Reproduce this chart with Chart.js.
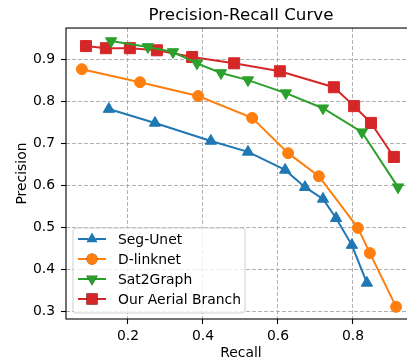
<!DOCTYPE html>
<html lang="en">
<head>
    <meta charset="UTF-8">
    <title>Precision-Recall Curve</title>
    <script src="https://cdn.jsdelivr.net/npm/chart.js"></script>
    <style>
        body {
            margin: 0;
            background: #fff;
        }
        #wrap {
            width: 407px;
            height: 362px;
            overflow: hidden;
        }
    </style>
</head>
<body>
    <div id="wrap">
        <canvas id="myChart" width="430" height="362"></canvas>
    </div>

    <script>
        // values
        const segUnetRecall = [0.149, 0.272, 0.421, 0.520, 0.619, 0.672, 0.720, 0.755, 0.797, 0.837];
        const segUnetPrecision = [0.781, 0.748, 0.705, 0.679, 0.636, 0.595, 0.567, 0.521, 0.457, 0.367];

        const dlinkRecall = [0.077, 0.232, 0.387, 0.531, 0.627, 0.709, 0.813, 0.845, 0.915];
        const dlinkPrecision = [0.876, 0.845, 0.812, 0.760, 0.676, 0.621, 0.498, 0.438, 0.310];

        const sat2graphRecall = [0.155, 0.253, 0.320, 0.384, 0.448, 0.520, 0.621, 0.720, 0.824, 0.920];
        const sat2graphPrecision = [0.943, 0.929, 0.917, 0.890, 0.867, 0.850, 0.819, 0.783, 0.726, 0.595];

        const aerialRecall = [0.088, 0.141, 0.205, 0.277, 0.371, 0.483, 0.605, 0.749, 0.803, 0.848, 0.909];
        const aerialPrecision = [0.931, 0.926, 0.926, 0.921, 0.905, 0.890, 0.871, 0.833, 0.788, 0.748, 0.667];

        const xTicks = [0.2, 0.4, 0.6, 0.8];
        const yTicks = [0.3, 0.4, 0.5, 0.6, 0.7, 0.8, 0.9];

        const FONT = 'DejaVu Sans';

        function toPoints(xs, ys) {
            return xs.map((x, i) => ({ x: x, y: ys[i] }));
        }

        function series(label, xs, ys, color, style, radius, rotation) {
            return {
                label: label,
                data: toPoints(xs, ys),
                showLine: true,
                borderColor: color,
                backgroundColor: color,
                borderWidth: 2,
                pointStyle: style,
                pointRadius: radius,
                pointHoverRadius: radius,
                pointRotation: rotation || 0,
                pointBorderWidth: 1,
                pointBorderColor: color
            };
        }

        // border round the plot area (matplotlib spines)
        const frame = {
            id: 'frame',
            afterDatasetsDraw(chart) {
                const { ctx, chartArea: a } = chart;
                ctx.save();
                ctx.strokeStyle = '#000';
                ctx.lineWidth = 1.1;
                ctx.strokeRect(a.left, a.top, a.right - a.left, a.bottom - a.top);
                ctx.restore();
            }
        };

        // legend in the lower left corner of the plot
        const innerLegend = {
            id: 'innerLegend',
            afterDraw(chart) {
                const ctx = chart.ctx;
                const a = chart.chartArea;
                const x0 = a.left + 7, y0 = a.bottom - 91, w = 172, h = 85;
                ctx.save();
                ctx.beginPath();
                ctx.roundRect(x0, y0, w, h, 3);
                ctx.fillStyle = 'rgba(255,255,255,0.8)';
                ctx.fill();
                ctx.strokeStyle = '#d0d0d0';
                ctx.lineWidth = 1;
                ctx.stroke();
                ctx.font = '13.9px ' + FONT;
                ctx.textBaseline = 'middle';
                chart.data.datasets.forEach((ds, i) => {
                    const y = y0 + 11 + i * 20;
                    ctx.strokeStyle = ds.borderColor;
                    ctx.lineWidth = 2;
                    ctx.beginPath();
                    ctx.moveTo(x0 + 5, y);
                    ctx.lineTo(x0 + 33, y);
                    ctx.stroke();
                    Chart.helpers.drawPoint(ctx, {
                        pointStyle: ds.pointStyle,
                        radius: ds.pointRadius,
                        rotation: ds.pointRotation
                    }, x0 + 19, y);
                    ctx.fillStyle = ds.borderColor;
                    ctx.fill();
                    ctx.fillStyle = '#000';
                    ctx.fillText(ds.label, x0 + 45, y + 1);
                });
                ctx.restore();
            }
        };

        const gridStyle = {
            color: '#b0b0b0',
            lineWidth: 1,
            tickLength: 5,
            tickColor: '#000',
            tickWidth: 1.1,
            tickBorderDash: []
        };

        const ctx = document.getElementById('myChart').getContext('2d');
        new Chart(ctx, {
            type: 'scatter',
            data: {
                datasets: [
                    series('Seg-Unet', segUnetRecall, segUnetPrecision, '#1f77b4', 'triangle', 6.5),
                    series('D-linknet', dlinkRecall, dlinkPrecision, '#ff7f0e', 'circle', 5.5),
                    series('Sat2Graph', sat2graphRecall, sat2graphPrecision, '#2ca02c', 'triangle', 6.5, 180),
                    series('Our Aerial Branch', aerialRecall, aerialPrecision, '#d62728', 'rect', 7.8)
                ]
            },
            options: {
                responsive: false,
                animation: false,
                devicePixelRatio: 1,
                layout: { padding: { left: 0, right: 14, top: 0, bottom: 0 } },
                plugins: {
                    legend: { display: false },
                    tooltip: { enabled: false },
                    title: {
                        display: true,
                        text: 'Precision-Recall Curve',
                        fullSize: false,
                        color: '#000',
                        font: { family: FONT, size: 16.7, weight: 'normal' },
                        padding: { top: 6, bottom: 2 }
                    }
                },
                scales: {
                    x: {
                        type: 'linear',
                        min: 0.0347,
                        max: 0.968,
                        afterFit: s => { s.height = 43; },
                        afterBuildTicks: s => { s.ticks = xTicks.map(v => ({ value: v })); },
                        border: { display: false, dash: [4, 2] },
                        grid: gridStyle,
                        ticks: {
                            color: '#000',
                            padding: 4,
                            maxRotation: 0,
                            font: { family: FONT, size: 13.9 },
                            callback: v => v.toFixed(1)
                        },
                        title: {
                            display: true,
                            text: 'Recall',
                            color: '#000',
                            font: { family: FONT, size: 13.9 },
                            padding: { top: 0, bottom: 0 }
                        }
                    },
                    y: {
                        type: 'linear',
                        min: 0.281,
                        max: 0.974,
                        afterFit: s => { s.width = 66; },
                        afterBuildTicks: s => { s.ticks = yTicks.map(v => ({ value: v })); },
                        border: { display: false, dash: [4, 2] },
                        grid: gridStyle,
                        ticks: {
                            color: '#000',
                            padding: 6,
                            font: { family: FONT, size: 13.9 },
                            callback: v => v.toFixed(1)
                        },
                        title: {
                            display: true,
                            text: 'Precision',
                            color: '#000',
                            font: { family: FONT, size: 13.9 },
                            padding: { top: 14, bottom: 0 }
                        }
                    }
                }
            },
            plugins: [frame, innerLegend]
        });
    </script>
</body>
</html>
